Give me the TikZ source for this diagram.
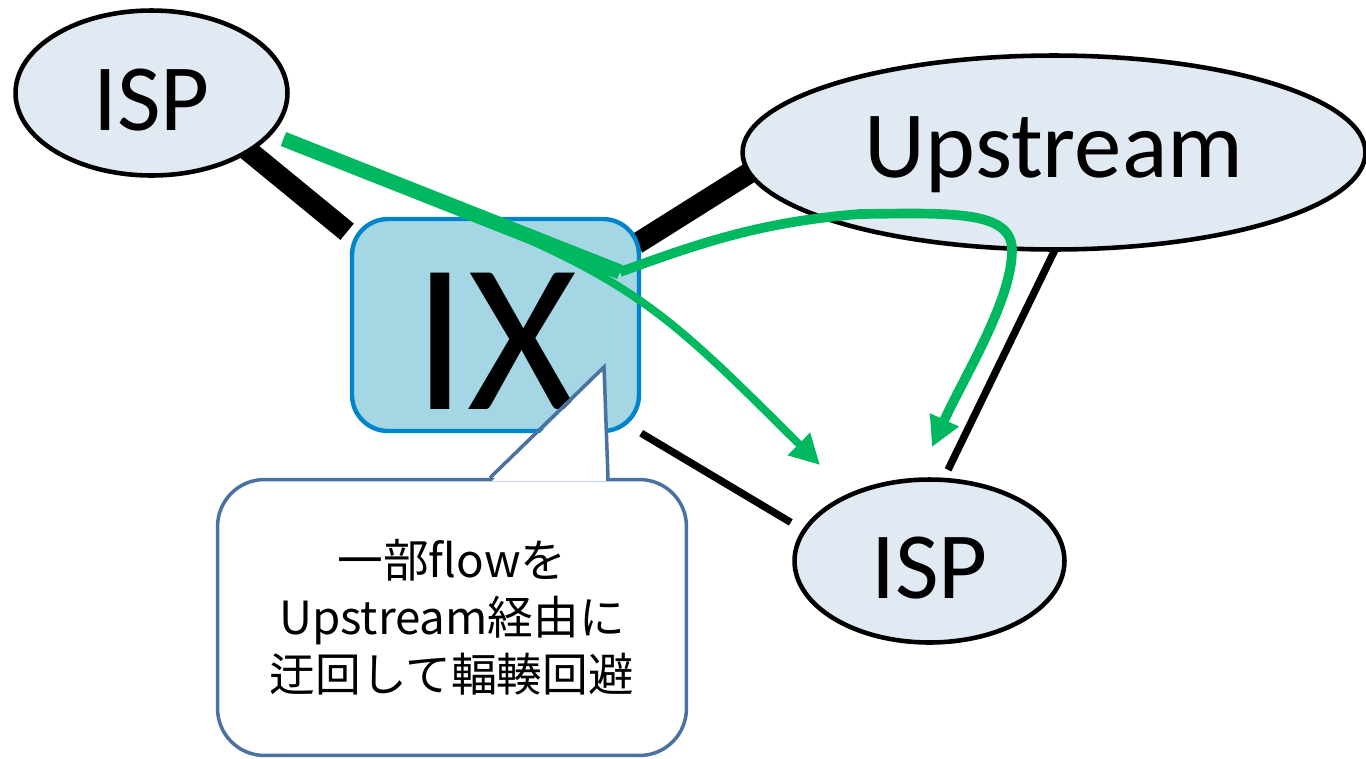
\documentclass[tikz,border=0pt]{standalone}
\usepackage{fontspec}
\setmainfont{Carlito}
\newfontfamily\jpfont{Noto Sans CJK JP}
\usetikzlibrary{shapes.geometric,arrows.meta,backgrounds}
\definecolor{ispfill}{RGB}{225,233,243}
\definecolor{ixfill}{RGB}{164,214,228}
\definecolor{ixline}{RGB}{0,132,204}
\definecolor{noteline}{RGB}{74,114,160}
\definecolor{flowgreen}{RGB}{0,184,96}
\begin{document}
\begin{tikzpicture}[x=0.02cm, y=-0.02cm,
        ispnode/.style={ellipse, draw=black, line width=2.6pt, fill=ispfill, inner sep=0pt,
            font=\fontsize{54}{60}\selectfont, text height=43.2pt, text depth=0pt},
        ixbox/.style={rectangle, rounded corners=0.72cm, draw=ixline, line width=2.5pt, fill=ixfill,
            minimum width=5.74cm, minimum height=4.24cm, inner sep=0pt,
            font=\fontsize{121}{130}\selectfont, text height=96.3pt, text depth=0pt},
        trunk/.style={line width=12pt},
        link/.style={line width=4.2pt},
        flow/.style={draw=flowgreen, line width=4.5pt, -{Triangle[length=17pt,width=17pt]}},
        notebox/.style={rectangle, rounded corners=0.94cm, draw=noteline, line width=2pt, fill=white,
            minimum width=9.38cm, minimum height=5.52cm, align=center,
            font=\jpfont\fontsize{26}{32.5}\selectfont}]
        \useasboundingbox (0, 0) rectangle (1366, 758);

        \node[ispnode, minimum width=5.44cm, minimum height=3.3cm] (isp1) at (151.5, 93) {ISP};
        \node[ispnode, minimum width=12.46cm, minimum height=3.88cm, text height=34.6pt, text depth=5.9pt] (upstream) at (1054, 152.5) {Upstream};
        \node[ixbox] (ix) at (495.5, 325) {IX};
        \node[ispnode, minimum width=5.4cm, minimum height=3.26cm] (isp2) at (929.5, 561) {ISP};

        \begin{scope}[on background layer]
            \draw[trunk, shorten <=-8pt, shorten >=2pt] (isp1.-31) -- (ix.148);
            \draw[trunk, shorten <=-3pt, shorten >=-8pt] (ix.30) -- (upstream.184);
            \draw[link, shorten >=7.7pt] (ix.south east) -- (isp2.166);
            \draw[link, shorten <=-5pt, shorten >=5pt] (upstream.south) -- (isp2.80);
        \end{scope}

        \coordinate (turn) at (620, 272);
        \coordinate (tipA) at (820, 465);
        \coordinate (tipB) at (932, 447);

        \draw[flow, shorten <=7pt] (isp1.-19) .. controls (630, 276) .. (tipA);
        \draw[draw=flowgreen, line width=8.5pt, shorten <=7pt] (isp1.-19) -- (turn);
        \draw[flow, line width=5.5pt] (turn) .. controls (700, 243) and (760, 222) .. (860, 214)
            .. controls (950, 213) and (1012, 210) .. (1012, 250)
            .. controls (1012, 300) and (965, 375) .. (tipB);

        \node[notebox] (note) at (452, 617.5) {一部flowを\\Upstream経由に\\迂回して輻輳回避};
        \fill[white] (492, 481) -- (604, 369) -- (606, 481) -- cycle;
        \draw[noteline, line width=2pt] (note.north -| 490, 0) -- (604, 367) -- (note.north -| 608, 0);
\end{tikzpicture}
\end{document}
